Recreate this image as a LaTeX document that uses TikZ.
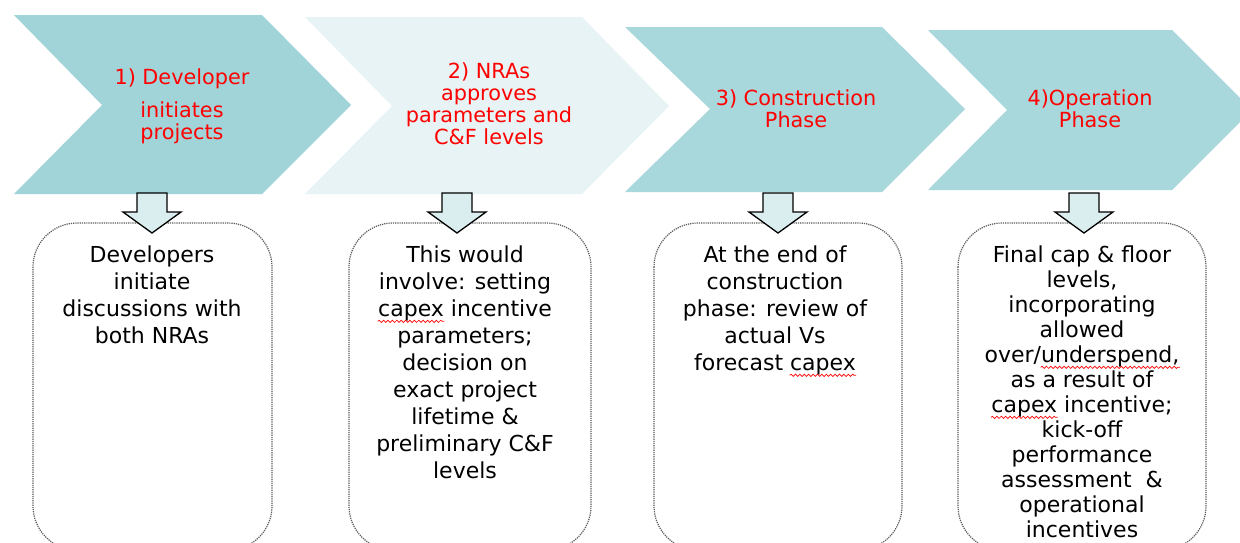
\documentclass[tikz,border=0pt]{standalone}
\usepackage{fontspec}
\setmainfont{DejaVu Sans}
\usepackage{tikz}
\usetikzlibrary{decorations.pathmorphing}

\definecolor{tealA}{HTML}{A1D4D8}
\definecolor{tealB}{HTML}{A8D7DC}
\definecolor{tealpale}{HTML}{E7F3F4}
\definecolor{arrowfill}{HTML}{DAEEF0}

% red wavy mark under a word
\newcommand{\typo}[1]{\tikz[baseline=(w.base),x=1pt,y=1pt]{\node[inner sep=0pt,anchor=base](w){#1};
  \draw[overlay,red,line width=0.35pt,decorate,decoration={snake,amplitude=0.55pt,segment length=2.2pt}]
    ([yshift=-2.6pt]w.base west) -- ([yshift=-2.6pt]w.base east);}}

\begin{document}
\begin{tikzpicture}[x=0.5pt,y=-0.5pt,
  phase/.style={text=red, align=center, font=\fontsize{10.4}{11}\selectfont},
  desc/.style={text=black, align=center, anchor=north, inner sep=0pt, font=\fontsize{11}{13.5}\selectfont}]
  \clip (0,0) rectangle (1240,542);
  \fill[white] (0,0) rectangle (1240,542);

  % the four phases
  \fill[tealA] (14,15) -- (262,15) -- (351,105) -- (262,194) -- (14,194) -- (102,105) -- cycle;
  \fill[tealpale] (305,17) -- (582,17) -- (669,106) -- (582,194) -- (305,194) -- (392,106) -- cycle;
  \fill[tealB] (625,27) -- (882,27) -- (965,109) -- (882,192) -- (625,192) -- (710,109) -- cycle;
  \fill[tealB] (928,30) -- (1172,30) -- (1252,110) -- (1172,190) -- (928,190) -- (1007,110) -- cycle;

  \node[phase] (p1) at (182,106) {1) Developer\\[5.5pt]initiates\\projects};
  \node[phase] (p2) at (489,104) {2) NRAs\\approves\\parameters and\\C\&F levels};
  \node[phase] (p3) at (796,109) {3) Construction\\Phase};
  \node[phase] (p4) at (1090,109) {4)Operation\\Phase};

  % boxes below
  \foreach \l/\r in {33/272, 349/591, 654/902, 958/1206}
  {
  \draw[black!65, line width=0.6pt, dash pattern=on 0.6pt off 0.5pt, rounded corners=22pt] (\l,223) rectangle (\r,550);
  }

  % block arrows
  \foreach \x in {152, 457, 778, 1084}
  {
  \draw[fill=arrowfill, line width=0.65pt] (\x-15,193) -- (\x+15,193) -- (\x+15,212) -- (\x+29,212) -- (\x,233) -- (\x-29,212) -- (\x-15,212) -- cycle;
  }

  \node[desc] (d1) at (152,245) {Developers\\initiate\\discussions with\\both NRAs};
  \node[desc] (d2) at (465,245) {This would\\involve: setting\\\typo{capex} incentive\\parameters;\\decision on\\exact project\\lifetime \&\\preliminary C\&F\\levels};
  \node[desc] (d3) at (775,245) {At the end of\\construction\\phase: review of\\actual Vs\\forecast \typo{capex}};
  \node[desc, font=\fontsize{11}{12.5}\selectfont] (d4) at (1082,245) {Final cap \& floor\\levels,\\incorporating\\allowed\\over/\typo{underspend,}\\as a result of\\\typo{capex} incentive;\\kick-off\\performance\\assessment \ \&\\operational\\incentives};
\end{tikzpicture}
\end{document}
